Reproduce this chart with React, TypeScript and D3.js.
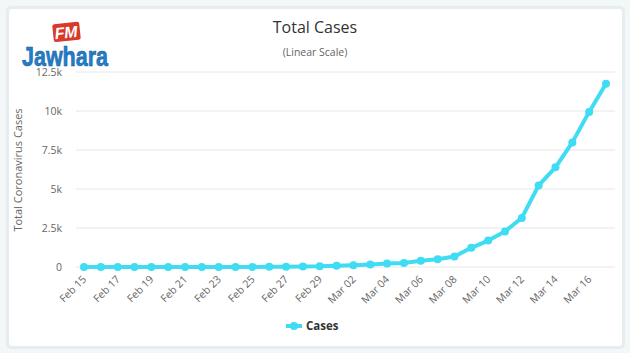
import React from "react";
import * as d3 from "d3";

const dates = [
  "Feb 15","Feb 16","Feb 17","Feb 18","Feb 19","Feb 20","Feb 21","Feb 22","Feb 23","Feb 24",
  "Feb 25","Feb 26","Feb 27","Feb 28","Feb 29","Mar 01","Mar 02","Mar 03","Mar 04","Mar 05",
  "Mar 06","Mar 07","Mar 08","Mar 09","Mar 10","Mar 11","Mar 12","Mar 13","Mar 14","Mar 15",
  "Mar 16","Mar 17",
];
const cases = [
  2, 2, 2, 2, 2, 2, 2, 2, 2, 2,
  6, 13, 15, 32, 45, 84, 120, 165, 222, 259,
  400, 500, 673, 1231, 1695, 2277, 3146, 5232, 6391, 7988,
  9942, 11748,
];
const yTicks = [0, 2500, 5000, 7500, 10000, 12500];
const yTickLabels = ["0", "2.5k", "5k", "7.5k", "10k", "12.5k"];
const seriesName = "Cases";

const W = 630;
const H = 353;
const FONT = "'Open Sans', 'DejaVu Sans', sans-serif";
const LINE = "#3fdcf4";

export default function App() {
  const x = d3.scalePoint<string>().domain(dates).range([84, 606]);
  const y = d3.scaleLinear().domain([0, 12500]).range([267, 72]);
  const line = d3
    .line<number>()
    .x((_, i) => x(dates[i]) as number)
    .y((d) => y(d));

  return (
    <svg
      width={W}
      height={H}
      style={{ position: "absolute", left: 0, top: 0, fontFamily: FONT }}
    >
      <rect x={0} y={0} width={W} height={H} fill="#f4f7f8" />
      <rect x={6} y={6} width={619} height={343} rx={5} fill="#e6edf0" />
      <rect x={9} y={9} width={613} height={337} rx={3} fill="#ffffff" />

      {/* Logo */}
      <g transform="translate(66,32) rotate(-6)">
        <rect x={-13} y={-9} width={27} height={18} rx={2} fill="#d9382a" />
        <text
          x={0}
          y={6}
          textAnchor="middle"
          fontFamily="'Liberation Sans Narrow', 'Liberation Sans', sans-serif"
          fontWeight="bold"
          fontStyle="italic"
          fontSize={16}
          fill="#ffffff"
        >
          FM
        </text>
      </g>
      <text
        x={65}
        y={66}
        textAnchor="middle"
        fontFamily="'Liberation Sans Narrow', 'Liberation Sans', sans-serif"
        fontWeight="bold"
        fontSize={27}
        fill="#1f7fcf"
        stroke="#175a95"
        strokeWidth={0.6}
        textLength={86}
        lengthAdjust="spacingAndGlyphs"
      >
        Jawhara
      </text>

      {/* Title */}
      <text x={315} y={33} textAnchor="middle" fontSize={16} fill="#333333">
        Total Cases
      </text>
      <text x={315} y={56} textAnchor="middle" fontSize={10.5} fill="#666666">
        (Linear Scale)
      </text>

      {/* Grid */}
      {yTicks.map((t, i) => (
        <g key={t}>
          <line
            x1={76}
            x2={615}
            y1={y(t)}
            y2={y(t)}
            stroke="#e6e6e6"
            strokeWidth={1}
          />
          <text
            x={62}
            y={y(t) + 4}
            textAnchor="end"
            fontSize={10.5}
            fill="#666666"
          >
            {yTickLabels[i]}
          </text>
        </g>
      ))}

      <text
        transform={`translate(22,170) rotate(-90)`}
        textAnchor="middle"
        fontSize={11}
        fill="#666666"
      >
        Total Coronavirus Cases
      </text>

      {/* X labels */}
      {dates.map((d, i) =>
        i % 2 === 0 ? (
          <text
            key={d}
            transform={`translate(${(x(d) as number) + 3},${280}) rotate(-45)`}
            textAnchor="end"
            fontSize={10.5}
            fill="#666666"
          >
            {d}
          </text>
        ) : null
      )}

      {/* Series */}
      <path
        d={line(cases) || ""}
        fill="none"
        stroke={LINE}
        strokeWidth={4}
        strokeLinejoin="round"
      />
      {cases.map((v, i) => (
        <circle key={i} cx={x(dates[i]) as number} cy={y(v)} r={4} fill={LINE} />
      ))}

      {/* Legend */}
      <line x1={286} x2={302} y1={326} y2={326} stroke={LINE} strokeWidth={4} />
      <circle cx={294} cy={326} r={4} fill={LINE} />
      <text x={306} y={330} fontSize={11.5} fontWeight="bold" fill="#333333">
        {seriesName}
      </text>
    </svg>
  );
}
